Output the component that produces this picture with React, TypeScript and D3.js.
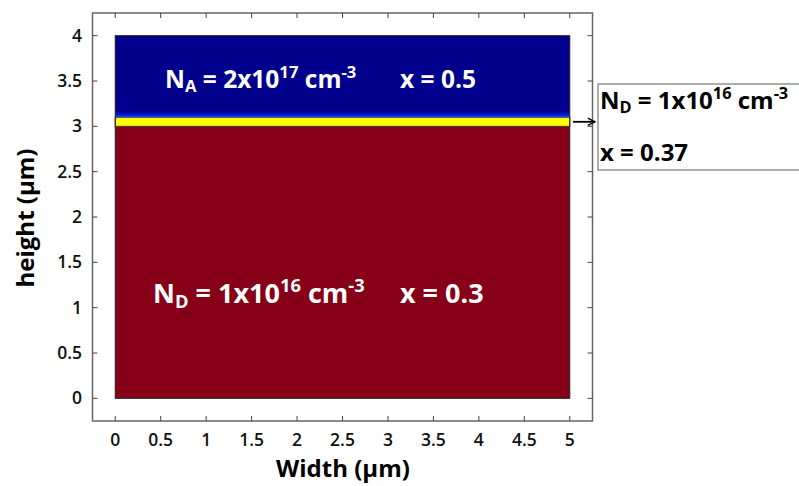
import React from "react";
import * as d3 from "d3";

const xTicks = [0, 0.5, 1, 1.5, 2, 2.5, 3, 3.5, 4, 4.5, 5];
const yTicks = [0, 0.5, 1, 1.5, 2, 2.5, 3, 3.5, 4];
const layerNames = ["n-AlGaAs", "interlayer", "p-AlGaAs"];
const layerBottoms = [0, 3.0, 3.1];
const layerTops = [3.0, 3.1, 4.0];
const layerColors = ["#860018", "#ffff00", "#00008c"];
const deviceWidth = [0, 5];

const W = 799, H = 486;
const M = { left: 92.5, right: 592.5, top: 13, bottom: 421 };

function Doping({ x, y, sub, exp, size, fill }) {
  const s = size * 0.68;
  const d = size * 0.18;
  const u = size * 0.4;
  return (
    <text x={x} y={y} fontFamily="'Open Sans', sans-serif" fontWeight="bold" fontSize={size} fill={fill}>
      N<tspan fontSize={s} dy={d}>{sub}</tspan><tspan dy={-d}>{" = " + exp[0] + "x10"}</tspan>
      <tspan fontSize={s} dy={-u}>{exp[1]}</tspan><tspan dy={u}> cm</tspan><tspan fontSize={s} dy={-u}>-3</tspan>
    </text>
  );
}

export default function App() {
  const x = d3.scaleLinear().domain([-0.25, 5.25]).range([M.left, M.right]);
  const y = d3.scaleLinear().domain([-0.25, 4.25]).range([M.bottom, M.top]);
  const font = "'Open Sans', sans-serif";
  const tk = 5;
  return (
    <svg width={W} height={H} style={{ position: "absolute", left: 0, top: 0 }}>
      <defs>
        <linearGradient id="blueGrad" x1="0" y1="1" x2="0" y2="0">
          <stop offset="0" stopColor="#2a50ff" />
          <stop offset="0.03" stopColor="#0018d0" />
          <stop offset="0.08" stopColor="#00008c" />
          <stop offset="1" stopColor="#00008c" />
        </linearGradient>
        <marker id="arr" viewBox="0 0 10 10" refX="9" refY="5" markerWidth="9" markerHeight="9" orient="auto" markerUnits="userSpaceOnUse">
          <path d="M1,1 L9,5 L1,9" fill="none" stroke="#000" strokeWidth="1.6" />
        </marker>
      </defs>
      <rect x={0} y={0} width={W} height={H} fill="#fff" />
      {layerNames.map((n, i) => (
        <rect
          key={n}
          x={x(deviceWidth[0])}
          y={y(layerTops[i])}
          width={x(deviceWidth[1]) - x(deviceWidth[0])}
          height={y(layerBottoms[i]) - y(layerTops[i])}
          fill={i === 2 ? "url(#blueGrad)" : layerColors[i]}
          stroke={i === 1 ? "#333" : "none"}
          strokeWidth={1}
        />
      ))}
      <rect
        x={x(deviceWidth[0])}
        y={y(layerTops[2])}
        width={x(deviceWidth[1]) - x(deviceWidth[0])}
        height={y(layerBottoms[0]) - y(layerTops[2])}
        fill="none"
        stroke="#222"
        strokeWidth={1}
      />
      <rect x={M.left} y={M.top} width={M.right - M.left} height={M.bottom - M.top} fill="none" stroke="#666" strokeWidth={1.5} />
      {xTicks.map((t) => (
        <g key={"x" + t}>
          <line x1={x(t)} x2={x(t)} y1={M.bottom} y2={M.bottom - tk} stroke="#444" />
          <line x1={x(t)} x2={x(t)} y1={M.top} y2={M.top + tk} stroke="#444" />
          <text x={x(t)} y={446} textAnchor="middle" fontFamily={font} fontWeight="600" fontSize={17.5} fill="#111">{t}</text>
        </g>
      ))}
      {yTicks.map((t) => (
        <g key={"y" + t}>
          <line x1={M.left} x2={M.left + tk} y1={y(t)} y2={y(t)} stroke="#444" />
          <line x1={M.right} x2={M.right - tk} y1={y(t)} y2={y(t)} stroke="#444" />
          <text x={82} y={y(t) + 6} textAnchor="end" fontFamily={font} fontWeight="600" fontSize={17.5} fill="#111">{t}</text>
        </g>
      ))}
      <text x={343} y={477} textAnchor="middle" fontFamily={font} fontWeight="bold" fontSize={24} fill="#000">Width (µm)</text>
      <text transform="translate(34,218) rotate(-90)" textAnchor="middle" fontFamily={font} fontWeight="bold" fontSize={24} fill="#000">height (µm)</text>

      <Doping x={165} y={88} sub="A" exp={["2", "17"]} size={24.5} fill="#fff" />
      <text x={400} y={88} fontFamily={font} fontWeight="bold" fontSize={24.5} fill="#fff">x = 0.5</text>

      <Doping x={153} y={303} sub="D" exp={["1", "16"]} size={27} fill="#fff" />
      <text x={400} y={303} fontFamily={font} fontWeight="bold" fontSize={27} fill="#fff">x = 0.3</text>

      <line x1={573} x2={595} y1={y(3.05)} y2={y(3.05)} stroke="#000" strokeWidth={1.8} markerEnd="url(#arr)" />
      <rect x={598} y={84} width={210} height={86} fill="#fff" stroke="#777" strokeWidth={1.2} />
      <Doping x={600} y={109} sub="D" exp={["1", "16"]} size={24} fill="#000" />
      <text x={600} y={161} fontFamily={font} fontWeight="bold" fontSize={24} fill="#000">x = 0.37</text>
    </svg>
  );
}
